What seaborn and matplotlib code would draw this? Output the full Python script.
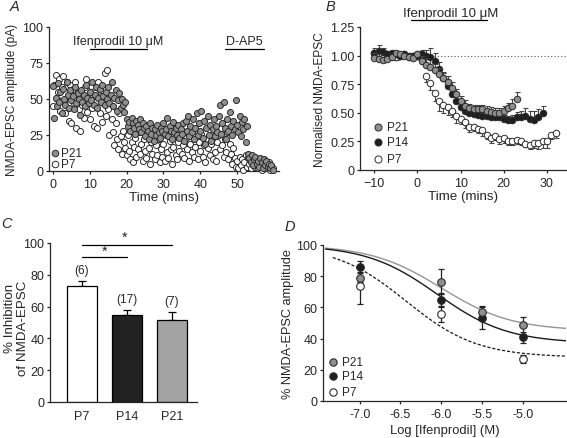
import numpy as np
import pandas as pd
import matplotlib
matplotlib.use("Agg")
import matplotlib.pyplot as plt
import seaborn as sns

sns.set_style("ticks")
plt.rcParams['font.family'] = ['Liberation Sans', 'DejaVu Sans']
plt.rcParams['font.size'] = 9
plt.rcParams['axes.linewidth'] = 0.9
plt.rcParams['xtick.major.size'] = 2.5
plt.rcParams['ytick.major.size'] = 2.5
plt.rcParams['xtick.major.width'] = 0.9
plt.rcParams['ytick.major.width'] = 0.9
plt.rcParams['xtick.major.pad'] = 2.5
plt.rcParams['ytick.major.pad'] = 1.5

TICK_FS = 9
XLABEL_FS = 9.6
LEG_FS = 8.5

# ---------------- Panel A data (time-course, 1/3 min sampling) ----------------
a_p21 = [59, 37, 51, 45, 61, 48, 55, 40, 57, 50, 46, 62, 53, 44, 56,
         49, 52, 43, 58, 47, 54, 50, 39, 56, 48, 53, 45, 60, 51, 47,
         55, 49, 62, 46, 53, 58, 44, 51, 57, 48, 60, 52, 46, 55, 50,
         58, 47, 53, 62, 45, 51, 56, 42, 49, 54, 44, 50, 46, 41, 48,
         36, 31, 34, 28, 37, 33, 30, 26, 35, 32, 29, 36, 27, 33, 30,
         24, 31, 28, 22, 33, 26, 30, 21, 29, 25, 32, 27, 23, 30, 28,
         33, 26, 29, 37, 24, 31, 28, 22, 34, 27, 30, 25, 32, 23, 29,
         26, 33, 21, 35, 28, 38, 24, 31, 27, 36, 22, 30, 40, 25, 33,
         28, 42, 23, 35, 19, 30, 38, 25, 32, 21, 29, 36, 24, 31, 27,
         38, 46, 26, 33, 48, 30, 22, 36, 28, 41, 31, 25, 35, 29, 49,
         32, 27, 38, 24, 34, 29, 36, 20, 31, 12, 9, 6, 11, 4, 8,
         10, 5, 7, 3, 9, 6, 2, 8, 4, 7, 3, 5, 2, 4, 1]
a_p7 = [45, 60, 67, 50, 55, 64, 42, 58, 66, 48, 40, 62, 52, 35, 60,
        33, 57, 47, 62, 30, 53, 43, 28, 55, 46, 37, 58, 64, 41, 50,
        36, 59, 44, 31, 54, 48, 30, 62, 40, 52, 34, 47, 68, 38, 70,
        43, 25, 52, 36, 27, 18, 33, 22, 15, 40, 24, 12, 28, 20, 16,
        11, 25, 14, 8, 20, 6, 17, 23, 10, 15, 27, 12, 19, 7, 22,
        14, 9, 24, 16, 5, 20, 12, 27, 8, 18, 11, 22, 6, 15, 10,
        19, 7, 25, 13, 9, 21, 15, 5, 17, 24, 11, 8, 20, 14, 26,
        12, 18, 9, 23, 15, 28, 7, 19, 13, 25, 10, 17, 22, 8, 20,
        14, 26, 10, 18, 6, 22, 16, 29, 11, 19, 8, 24, 13, 7, 20,
        25, 15, 30, 18, 10, 22, 13, 27, 8, 19, 12, 5, 16, 9, 3,
        7, 2, 10, 4, 8, 1, 6, 11, 3, 9, 5, 2, 7, 4, 10,
        3, 6, 2, 8, 4, 1, 5, 3, 7, 2, 4, 6, 1, 3, 2]
a_time = [i / 3 for i in range(len(a_p21))]

# ---------------- Panel B data (normalised) ----------------
b_time_p7 = list(range(-10, 33))
b_p7 = [1.02, 1.00, 0.98, 1.01, 1.00, 0.99, 1.00, 1.01, 0.99, 1.00, 1.00, 0.97,
        0.82, 0.76, 0.67, 0.60, 0.57, 0.55, 0.52, 0.47, 0.45, 0.42, 0.38, 0.38,
        0.36, 0.35, 0.31, 0.28, 0.30, 0.27, 0.28, 0.25, 0.25, 0.26, 0.25, 0.23,
        0.22, 0.24, 0.24, 0.25, 0.25, 0.31, 0.32]
b_p7_err = [0.04, 0.03, 0.04, 0.03, 0.02, 0.03, 0.02, 0.02, 0.02, 0.03, 0.03, 0.04,
            0.05, 0.06, 0.07, 0.08, 0.07, 0.07, 0.06, 0.06, 0.05, 0.05, 0.05, 0.04,
            0.04, 0.05, 0.04, 0.04, 0.04, 0.04, 0.04, 0.03, 0.03, 0.03, 0.03, 0.03,
            0.04, 0.05, 0.06, 0.06, 0.06, 0.04, 0.04]
b_time_p14 = list(range(-10, 30))
b_p14 = [1.02, 1.04, 1.03, 1.01, 1.02, 1.01, 1.00, 1.01, 1.00, 1.00, 1.00, 1.01,
         1.00, 0.99, 0.95, 0.88, 0.80, 0.73, 0.66, 0.60, 0.55, 0.52, 0.50, 0.49,
         0.48, 0.47, 0.47, 0.46, 0.46, 0.46, 0.45, 0.44, 0.44, 0.46, 0.46, 0.47,
         0.45, 0.44, 0.46, 0.50]
b_p14_err = [0.05, 0.05, 0.04, 0.03, 0.02, 0.02, 0.02, 0.02, 0.02, 0.02, 0.03, 0.04,
             0.05, 0.08, 0.07, 0.06, 0.06, 0.06, 0.06, 0.05, 0.05, 0.04, 0.04, 0.04,
             0.04, 0.04, 0.04, 0.03, 0.03, 0.03, 0.03, 0.03, 0.04, 0.05, 0.06, 0.07,
             0.07, 0.08, 0.07, 0.06]
b_time_p21 = list(range(-10, 24))
b_p21 = [0.98, 0.97, 0.96, 0.97, 0.99, 1.02, 1.01, 1.00, 0.99, 0.98, 1.01, 0.95,
         0.92, 0.90, 0.87, 0.84, 0.80, 0.77, 0.72, 0.66, 0.60, 0.56, 0.54, 0.53,
         0.53, 0.53, 0.52, 0.51, 0.50, 0.50, 0.52, 0.54, 0.56, 0.62]
b_p21_err = [0.04, 0.04, 0.03, 0.03, 0.02, 0.02, 0.02, 0.02, 0.02, 0.02, 0.03, 0.05,
             0.06, 0.06, 0.06, 0.05, 0.05, 0.05, 0.05, 0.05, 0.05, 0.05, 0.04, 0.04,
             0.04, 0.04, 0.04, 0.04, 0.04, 0.04, 0.04, 0.05, 0.06, 0.06]

# ---------------- Panel C data ----------------
c_groups = ["P7", "P14", "P21"]
c_values = [73, 55, 51.5]
c_errors = [3, 3, 5]
c_n = ["(6)", "(17)", "(7)"]

# ---------------- Panel D data ----------------
d_logconc = [-7.0, -6.0, -5.5, -5.0]
d_p21 = [79, 76.5, 57, 48.5]
d_p21_err = [3, 8, 4, 5.5]
d_p14 = [86, 65, 53, 41]
d_p14_err = [3.5, 4, 7, 3.5]
d_logconc_p7 = [-7.0, -6.0, -5.0]
d_p7 = [74, 55.5, 27]
d_p7_err = [12, 5, 2.5]
# fitted sigmoid parameters: top, bottom, logIC50
d_fit_p21 = [100, 45, -6.0]
d_fit_p14 = [100, 37, -6.05]
d_fit_p7 = [100, 28, -6.43]

W, H = 567, 439
fig = plt.figure(figsize=(W / 100, H / 100), dpi=100)


def axes_px(l, t, r, b):
    return fig.add_axes([l / W, 1 - b / H, (r - l) / W, (b - t) / H])


GRAY = "#8f8f8f"
DARK = "#1e1e1e"
EDGE = "#2a2a2a"

# ======================= Panel A =======================
axA = axes_px(49, 28, 279, 172)
dfA7 = pd.DataFrame({"t": a_time, "v": a_p7})
dfA21 = pd.DataFrame({"t": a_time, "v": a_p21})
sns.scatterplot(data=dfA7, x="t", y="v", ax=axA, color="white", edgecolor=EDGE,
                linewidth=0.7, s=19, clip_on=False, zorder=3)
sns.scatterplot(data=dfA21, x="t", y="v", ax=axA, color=GRAY, edgecolor=EDGE,
                linewidth=0.7, s=19, clip_on=False, zorder=4)
axA.set_xlim(-1.1, 61.4)
axA.set_ylim(0, 100)
axA.set_xticks([0, 10, 20, 30, 40, 50])
axA.set_yticks([0, 25, 50, 75, 100])
axA.set_xlabel("Time (mins)", fontsize=XLABEL_FS, labelpad=1)
axA.set_ylabel("NMDA-EPSC amplitude (pA)", fontsize=8.6, labelpad=3)
axA.plot([10, 25.5], [84.5, 84.5], color="black", lw=0.9, clip_on=False)
axA.text(17.8, 86, "Ifenprodil 10 \u03bcM", ha="center", va="bottom", fontsize=9)
axA.plot([46.7, 57.3], [84.5, 84.5], color="black", lw=0.9, clip_on=False)
axA.text(52, 86, "D-AP5", ha="center", va="bottom", fontsize=9)
for (yy, col, lab) in [(0.125, GRAY, "P21"), (0.049, "white", "P7")]:
    axA.scatter([0.026], [yy], transform=axA.transAxes, s=22, color=col,
                edgecolor=EDGE, linewidth=0.7, clip_on=False, zorder=5)
    axA.text(0.053, yy, lab, transform=axA.transAxes, va="center", fontsize=LEG_FS)
sns.despine(ax=axA)

# ======================= Panel B =======================
axB = axes_px(360, 28, 566, 171)
axB.plot([-10, 34.4], [1, 1], color="#555555", lw=0.8, ls=(0, (1, 2)), zorder=1)
series_B = [
    (b_time_p7, b_p7, b_p7_err, "white", "lower"),
    (b_time_p14, b_p14, b_p14_err, DARK, "upper"),
    (b_time_p21, b_p21, b_p21_err, GRAY, "upper"),
]
for i, (tt, vv, ee, col, side) in enumerate(series_B):
    ee = np.array(ee)
    zeros = np.zeros_like(ee)
    yerr = [ee, zeros] if side == "lower" else [zeros, ee]
    axB.errorbar(tt, vv, yerr=yerr, fmt="none", ecolor="#444444", elinewidth=0.8,
                 capsize=1.8, capthick=0.8, zorder=2 + i)
    df = pd.DataFrame({"t": tt, "v": vv})
    sns.scatterplot(data=df, x="t", y="v", ax=axB, color=col, edgecolor=EDGE,
                    linewidth=0.7, s=22, zorder=3 + i, clip_on=False)
axB.set_xlim(-13.3, 34.4)
axB.set_ylim(0, 1.25)
axB.set_xticks([-10, 0, 10, 20, 30])
axB.set_yticks([0, 0.25, 0.5, 0.75, 1.0, 1.25])
axB.set_yticklabels(["0", "0.25", "0.50", "0.75", "1.00", "1.25"])
axB.set_xlabel("Time (mins)", fontsize=XLABEL_FS, labelpad=1)
axB.set_ylabel("Normalised NMDA-EPSC", fontsize=8.6, labelpad=3)
axB.plot([-1.5, 16], [1.31, 1.31], color="black", lw=0.9, clip_on=False)
axB.text(7.8, 1.32, "Ifenprodil 10 \u03bcM", ha="center", va="bottom", fontsize=9.5)
for (yy, col, lab) in [(0.30, GRAY, "P21"), (0.196, DARK, "P14"), (0.077, "white", "P7")]:
    axB.scatter([0.087], [yy], transform=axB.transAxes, s=26, color=col,
                edgecolor=EDGE, linewidth=0.7, clip_on=False, zorder=6)
    axB.text(0.13, yy, lab, transform=axB.transAxes, va="center", fontsize=LEG_FS)
sns.despine(ax=axB)

# ======================= Panel C =======================
axC = axes_px(50, 244, 197, 403)
dfC = pd.DataFrame({"g": c_groups, "v": c_values})
sns.barplot(data=dfC, x="g", y="v", hue="g", ax=axC,
            palette=["white", "#222222", "#a3a3a3"], edgecolor="black",
            linewidth=0.9, width=0.667, errorbar=None, legend=False, zorder=2)
axC.errorbar(range(3), c_values, yerr=[[0, 0, 0], c_errors], fmt="none",
             ecolor="black", elinewidth=0.9, capsize=3, capthick=0.9, zorder=1)
for i, (v, e, n) in enumerate(zip(c_values, c_errors, c_n)):
    axC.text(i, v + e + 3, n, ha="center", va="bottom", fontsize=8.5)
axC.plot([0, 2], [99, 99], color="black", lw=0.9, clip_on=False)
axC.text(0.95, 99.5, "*", ha="center", va="bottom", fontsize=10.5)
axC.plot([0, 1], [91, 91], color="black", lw=0.9, clip_on=False)
axC.text(0.5, 90.5, "*", ha="center", va="bottom", fontsize=10.5)
axC.set_xlim(-0.71, 2.56)
axC.set_ylim(0, 100)
axC.set_yticks([0, 20, 40, 60, 80, 100])
axC.tick_params(axis="x", length=0, pad=6, labelsize=TICK_FS)
axC.tick_params(axis="y", labelsize=TICK_FS)
axC.set_xlabel("")
axC.set_ylabel("")
fig.text(10 / W, 1 - 318 / H, "% Inhibition", rotation=90, ha="center", va="center",
         fontsize=9.6)
fig.text(23 / W, 1 - 328 / H, "of NMDA-EPSC", rotation=90, ha="center", va="center",
         fontsize=9.6)
sns.despine(ax=axC)

# ======================= Panel D =======================
axD = axes_px(323, 246, 566, 402)


def sigmoid_curve(params, x0, x1):
    top, bottom, logic50 = params
    xs = np.linspace(x0, x1, 200)
    ys = bottom + (top - bottom) / (1 + 10 ** (xs - logic50))
    return pd.DataFrame({"x": xs, "y": ys})


sns.lineplot(data=sigmoid_curve(d_fit_p21, -7.42, -4.47), x="x", y="y", ax=axD,
             color="#959595", lw=1.0, zorder=1)
sns.lineplot(data=sigmoid_curve(d_fit_p14, -7.42, -4.47), x="x", y="y", ax=axD,
             color="#1a1a1a", lw=1.0, zorder=1)
sns.lineplot(data=sigmoid_curve(d_fit_p7, -7.33, -4.47), x="x", y="y", ax=axD,
             color="#1a1a1a", lw=0.9, ls=(0, (2.5, 1.5)), zorder=1)
series_D = [
    (d_logconc_p7, d_p7, d_p7_err, "white"),
    (d_logconc, d_p14, d_p14_err, DARK),
    (d_logconc, d_p21, d_p21_err, GRAY),
]
for i, (xx, vv, ee, col) in enumerate(series_D):
    axD.errorbar(xx, vv, yerr=ee, fmt="none", ecolor="#222222", elinewidth=0.9,
                 capsize=2.5, capthick=0.9, zorder=2 + i)
    df = pd.DataFrame({"x": xx, "v": vv})
    sns.scatterplot(data=df, x="x", y="v", ax=axD, color=col, edgecolor=EDGE,
                    linewidth=0.8, s=30, zorder=3 + i)
axD.set_xlim(-7.45, -4.47)
axD.set_ylim(0, 100)
axD.set_xticks([-7.0, -6.5, -6.0, -5.5, -5.0])
axD.set_xticklabels(["-7.0", "-6.5", "-6.0", "-5.5", "-5.0"])
axD.set_yticks([0, 20, 40, 60, 80, 100])
axD.tick_params(axis="both", labelsize=TICK_FS)
axD.set_xlabel("Log [Ifenprodil] (M)", fontsize=9.4)
axD.xaxis.set_label_coords(0.5, -0.15)
axD.set_ylabel("% NMDA-EPSC amplitude", fontsize=9.2, labelpad=2)
for (yy, col, lab) in [(0.25, GRAY, "P21"), (0.16, DARK, "P14"), (0.058, "white", "P7")]:
    axD.scatter([0.041], [yy], transform=axD.transAxes, s=28, color=col,
                edgecolor=EDGE, linewidth=0.8, clip_on=False, zorder=6)
    axD.text(0.078, yy, lab, transform=axD.transAxes, va="center", fontsize=LEG_FS)
sns.despine(ax=axD)

for ax in (axA, axB):
    ax.tick_params(axis="both", labelsize=TICK_FS)

# panel letters
fig.text(10 / W, 1 - 7 / H, "A", fontsize=10.5, style="italic", va="center")
fig.text(326 / W, 1 - 7 / H, "B", fontsize=10.5, style="italic", va="center")
fig.text(1 / W, 1 - 224 / H, "C", fontsize=10.5, style="italic", va="center")
fig.text(285 / W, 1 - 227 / H, "D", fontsize=10.5, style="italic", va="center")

fig.savefig("out.png", dpi=100)
